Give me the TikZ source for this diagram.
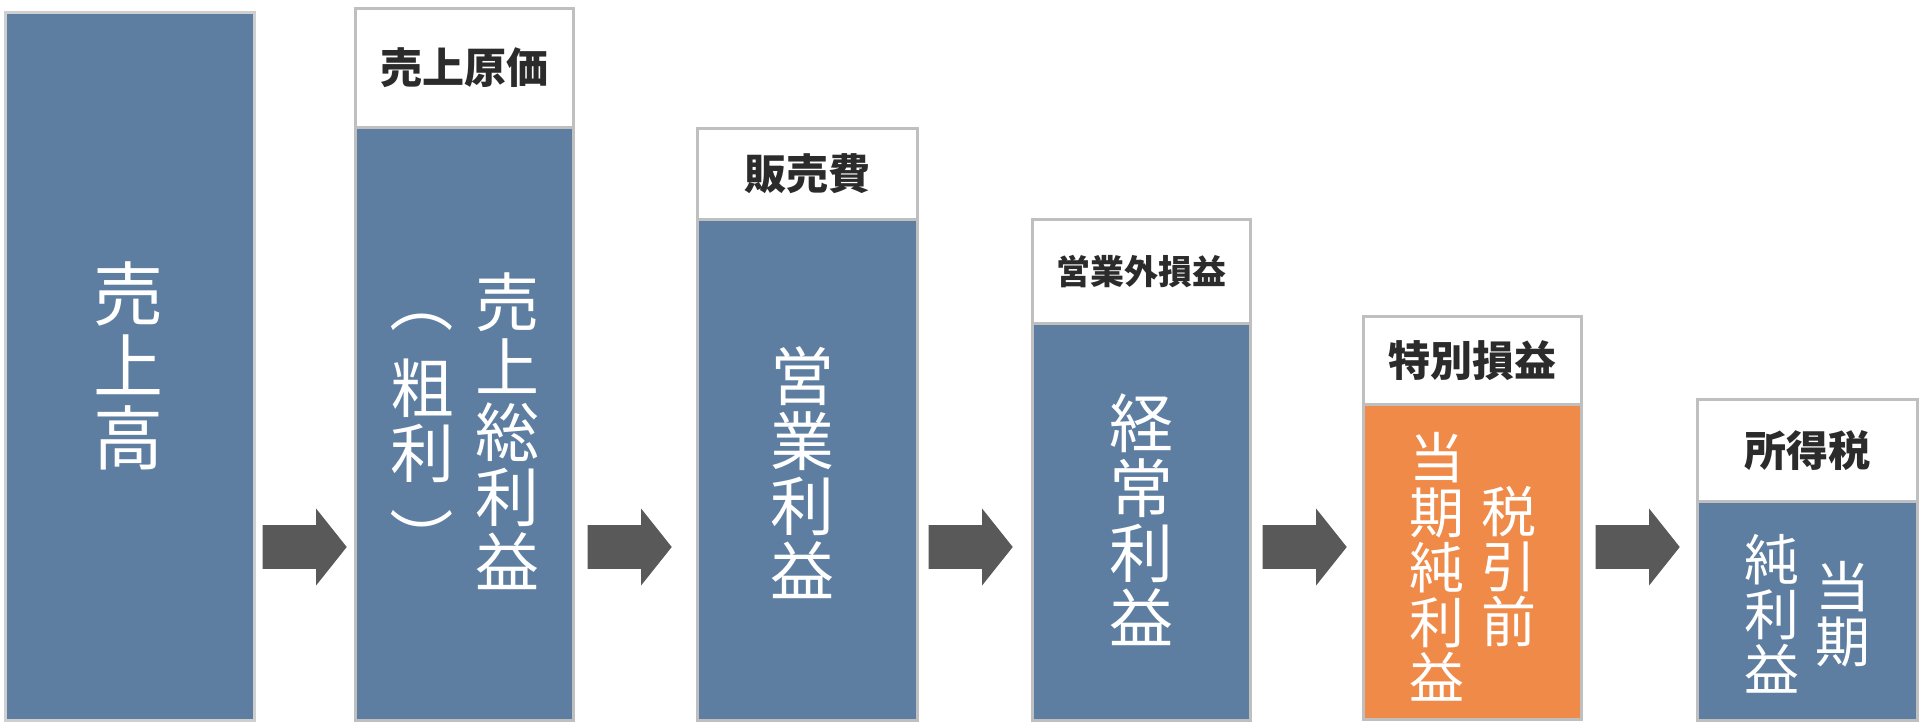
\documentclass[tikz,border=0pt]{standalone}
\usepackage{fontspec}
\newfontfamily\jp{Noto Sans CJK JP}
\usetikzlibrary{shapes.arrows}
\definecolor{bodyblue}{HTML}{5D7EA1}
\definecolor{bodyorange}{HTML}{EF8A48}
\definecolor{edgegray}{HTML}{BFBFBF}
\definecolor{arrowgray}{HTML}{595959}
\definecolor{headtext}{HTML}{2B2B2B}
\tikzset{
  body/.style={draw=edgegray, line width=1.6pt, fill=bodyblue, anchor=north west, inner sep=0pt},
  head/.style={draw=edgegray, line width=1.6pt, fill=white, anchor=north west, inner sep=0pt,
    text=headtext, font=\jp\bfseries\fontsize{21}{21}\selectfont},
  vlab/.style={text=white, align=center, inner sep=0pt},
  big/.style={font=\jp\fontsize{35}{36}\selectfont},
  mid/.style={font=\jp\fontsize{32}{32.5}\selectfont},
  small/.style={font=\jp\fontsize{27.5}{27.5}\selectfont},
  flow/.style={single arrow, fill=arrowgray, draw=none, inner xsep=0pt, inner ysep=10.75pt,
    minimum width=38pt, single arrow head extend=8.25pt,
    single arrow tip angle=103, minimum height=42pt},
}
\begin{document}
\begin{tikzpicture}[x=0.5pt,y=-0.5pt]
\useasboundingbox (0,0) rectangle (1920,724);
\fill[white] (0,0) rectangle (1920,724);

% box 1
\node[body, minimum width=124.5pt, minimum height=354pt, draw=edgegray!75] (b1) at (4,11) {};
\node[vlab, big] (t1) at (128,366) {売\\上\\高};

% box 2
\node[head, minimum width=109pt, minimum height=59.5pt] (h2) at (354,7) {売上原価};
\node[body, minimum width=109pt, minimum height=296.5pt] (b2) at (354,126) {};
\node[vlab, mid] (t2a) at (507,431) {売\\上\\総\\利\\益};
\node[vlab, mid] (t2b) at (422,421) {粗\\利};
\node[vlab, mid, rotate=-90] (p2o) at (422,301) {（};
\node[vlab, mid, rotate=-90] (p2c) at (422,539) {）};

% box 3
\node[head, minimum width=110pt, minimum height=45.5pt] (h3) at (696,127) {販売費};
\node[body, minimum width=110pt, minimum height=250.5pt] (b3) at (696,218) {};
\node[vlab, mid] (t3) at (802,473) {営\\業\\利\\益};

% box 4
\node[head, minimum width=109pt, minimum height=52pt, font=\jp\bfseries\fontsize{17}{17}\selectfont] (h4) at (1031,218) {営業外損益};
\node[body, minimum width=109pt, minimum height=198.5pt] (b4) at (1031,322) {};
\node[vlab, mid] (t4) at (1141,520) {経\\常\\利\\益};

% box 5
\node[head, minimum width=109pt, minimum height=44pt] (h5) at (1362,315) {特別損益};
\node[body, fill=bodyorange, minimum width=109pt, minimum height=157.5pt] (b5) at (1362,403) {};
\node[vlab, small] (t5a) at (1509,566) {税\\引\\前};
\node[vlab, small] (t5b) at (1437,567) {当\\期\\純\\利\\益};

% box 6
\node[head, minimum width=110pt, minimum height=51pt] (h6) at (1696,398) {所得税};
\node[body, minimum width=110pt, minimum height=109.5pt] (b6) at (1696,500) {};
\node[vlab, small] (t6a) at (1843,614) {当\\期};
\node[vlab, small] (t6b) at (1772,614) {純\\利\\益};

% arrows
\node[flow] (a1) at (296,547) {};
\node[flow] (a2) at (621,547) {};
\node[flow] (a3) at (962,547) {};
\node[flow] (a4) at (1296,547) {};
\node[flow] (a5) at (1629,547) {};
\end{tikzpicture}
\end{document}
